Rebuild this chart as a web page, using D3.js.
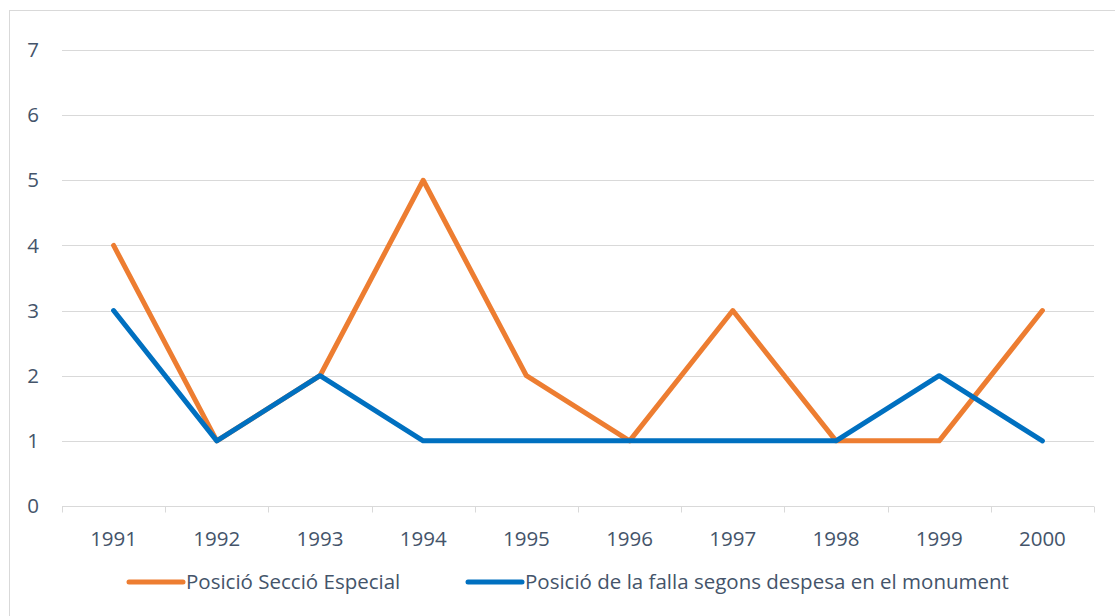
<!DOCTYPE html>
<meta charset="utf-8">
<style>
body { margin: 0; background: #fff; }
text { font-family: "Open Sans", "Noto Sans", sans-serif; fill: #44546A; }
.grid line { stroke: #D9D9D9; stroke-width: 1; }
</style>
<body>
<svg width="1115" height="616"></svg>
<script src="https://cdn.jsdelivr.net/npm/d3@7"></script>
<script>
// chart data
var years = ["1991","1992","1993","1994","1995","1996","1997","1998","1999","2000"];
var seccioEspecial = [4, 1, 2, 5, 2, 1, 3, 1, 1, 3];
var despesaMonument = [3, 1, 2, 1, 1, 1, 1, 1, 2, 1];
var yTicks = [0, 1, 2, 3, 4, 5, 6, 7];

var series = [
  {name: "Posició Secció Especial", values: seccioEspecial, color: "#ED7D31"},
  {name: "Posició de la falla segons despesa en el monument", values: despesaMonument, color: "#0070C0"}
];

var fontSize = 20.5;
var svg = d3.select("svg");

// outer chart border
svg.append("rect")
    .attr("x", 9.5).attr("y", 10.5)
    .attr("width", 1110).attr("height", 610)
    .attr("fill", "none").attr("stroke", "#D9D9D9");

var x = d3.scaleBand().domain(years).range([62, 1094]);
var y = d3.scaleLinear().domain([0, 7]).range([506, 50]);

// horizontal gridlines
svg.append("g").attr("class", "grid")
  .selectAll("line")
  .data(yTicks.filter(function(d) { return d > 0; }))
  .enter().append("line")
    .attr("x1", 62).attr("x2", 1094)
    .attr("y1", function(d) { return Math.round(y(d)) + 0.5; })
    .attr("y2", function(d) { return Math.round(y(d)) + 0.5; });

// y labels
svg.append("g")
  .selectAll("text")
  .data(yTicks)
  .enter().append("text")
    .attr("x", 33)
    .attr("y", function(d) { return y(d); })
    .attr("dy", "0.35em")
    .attr("text-anchor", "middle")
    .attr("font-size", fontSize)
    .text(function(d) { return d; });

// x axis line + tick marks between categories
var xAxis = svg.append("g").attr("transform", "translate(0," + (Math.round(y(0)) + 0.5) + ")");
xAxis.append("line").attr("x1", 62).attr("x2", 1094).attr("stroke", "#D9D9D9");
xAxis.selectAll(".tk")
  .data(years.concat(["end"]))
  .enter().append("line")
    .attr("x1", function(d, i) { return Math.round(62 + i * x.step()) + 0.5; })
    .attr("x2", function(d, i) { return Math.round(62 + i * x.step()) + 0.5; })
    .attr("y1", 0).attr("y2", 6)
    .attr("stroke", "#D9D9D9");

xAxis.selectAll("text")
  .data(years)
  .enter().append("text")
    .attr("x", function(d) { return x(d) + x.bandwidth() / 2; })
    .attr("y", 39)
    .attr("text-anchor", "middle")
    .attr("font-size", fontSize)
    .text(function(d) { return d; });

// series lines
var line = d3.line()
    .x(function(d, i) { return x(years[i]) + x.bandwidth() / 2; })
    .y(function(d) { return y(d); });

svg.append("g")
  .selectAll("path")
  .data(series)
  .enter().append("path")
    .attr("d", function(d) { return line(d.values); })
    .attr("fill", "none")
    .attr("stroke", function(d) { return d.color; })
    .attr("stroke-width", 5)
    .attr("stroke-linejoin", "round")
    .attr("stroke-linecap", "round");

// legend
var legendX = [127, 466];
var legend = svg.append("g")
  .selectAll("g")
  .data(series)
  .enter().append("g")
    .attr("transform", function(d, i) { return "translate(" + legendX[i] + ",582)"; });

legend.append("line")
    .attr("x1", 2).attr("x2", 56)
    .attr("stroke", function(d) { return d.color; })
    .attr("stroke-width", 5)
    .attr("stroke-linecap", "round");

legend.append("text")
    .attr("x", 59)
    .attr("dy", "0.35em")
    .attr("font-size", fontSize)
    .text(function(d) { return d.name; });
</script>
</body>
